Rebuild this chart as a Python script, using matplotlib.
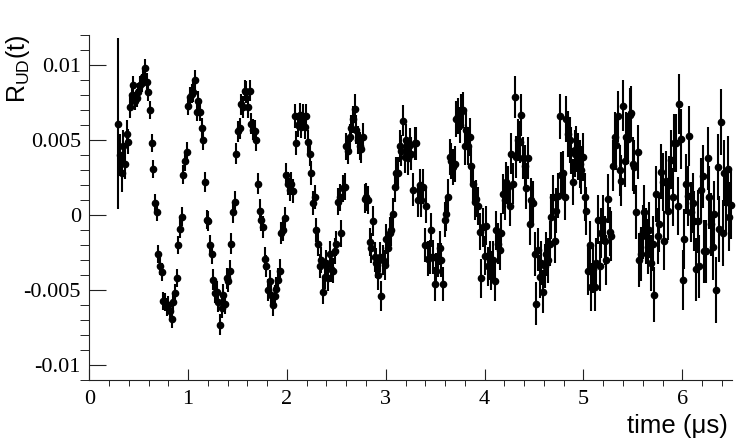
"""R_UD(t) up-down asymmetry vs time, ROOT-like styling."""

import matplotlib.pyplot as plt
import numpy as np
from matplotlib.ticker import FuncFormatter, MultipleLocator

# time binning (us)
T_FIRST = 0.293
BIN_WIDTH = 0.01685

# asymmetry per bin, in units of 1e-3
R_UD = [
    # 0.29 - 1.03 us
    6.1, 4.0, 2.8, 4.6, 3.4, 5.4, 4.9, 7.2, 8.0, 8.7,
    7.6, 7.8, 8.2, 8.7, 8.8, 9.2, 9.8, 8.9, 8.2, 7.0,
    4.8, 3.1, 0.8, 0.2, -2.6, -3.4, -3.8, -5.7, -5.8, -6.1,
    -6.0, -6.4, -6.9, -5.8, -5.2, -4.2, -2.0, -0.9, -0.1, 2.7,
    3.6, 4.2, 7.3, 7.9, 8.1,
    # 1.05 - 1.83 us
    8.2, 9.0, 6.9, 7.6, 6.9, 5.8, 5.0, 2.2, -0.3, -0.4,
    -2.0, -2.6, -4.3, -5.2, -5.1, -5.8, -7.3, -6.2, -5.3, -5.9,
    -4.2, -4.4, -3.7, -1.9, 0.2, 0.9, 4.1, 5.6, 5.8, 7.4,
    7.2, 8.3, 8.2, 7.2, 8.3, 6.1, 5.7, 5.6, 5.0, 2.1,
    0.3, -0.3, -0.8, -2.9, -3.4, -5.0, -4.4,
    # 1.84 - 3.44 us
    -5.3, -6.0, -5.4, -4.9, -4.3, -3.7, -1.2, -1.0, -0.2, 2.7,
    2.1, 1.7, 2.1, 1.6, 6.6, 4.8, 6.0, 6.7, 5.9, 6.6,
    5.9, 6.6, 4.9, 4.1, 2.8, 0.8, 1.2, -1.0, -1.9, -3.4,
    -3.0, -5.1, -4.1, -3.2, -4.2, -2.6, -3.6, -3.7, -2.4, -1.9,
    0.9, 1.2, -1.2, 1.8, 1.9, 4.6, 4.3, 5.2, 5.8, 6.4,
    7.1, 5.7, 5.0, 4.6, 4.4, 5.2, 1.1, 1.2, 1.0, -1.8,
    -2.2, -0.4, -2.8, -3.2, -4.0, -2.8, -5.4, -3.0, -3.3, -1.6,
    -2.2, -1.2, -1.0, 0.1, 1.9, 2.8, 2.8, 4.6, 4.3, 6.3,
    3.9, 5.0, 3.8, 4.7, 4.1, 1.7, 4.8, 4.8, 1.0, 2.0,
    1.0, 1.9, -2.0, 0.6, -2.9, -2.8,
    # 3.46 - 4.94 us
    -1.0, -2.8, -4.6, -3.7, -3.0, -2.2, -3.0, -4.6, -0.3, 0.1,
    1.2, 3.9, 3.6, 3.2, 3.4, 6.4, 6.6, 6.0, 6.9, 7.0,
    4.6, 5.7, 4.6, 5.2, 3.3, 2.1, 0.9, 1.1, 0.6, -1.1,
    -4.2, -0.8, -2.7, -0.7, -3.4, -3.0, -3.7, -3.0, -4.4, -1.0,
    -1.9, -2.3, -1.2, 1.4, 1.0, 2.2, 1.9, 0.6, 4.1, 2.1,
    7.9, 3.9, 5.0, 4.9, 6.7, 3.8, 3.3, 1.8, 3.8, -0.6,
    1.0, 0.8, -2.6, -5.9, -2.3, -4.1, -3.2, -5.1, -3.4, -2.6,
    -3.0, -1.9, -0.1, 1.2, -1.7, 0.3, 1.3, 6.6, 2.7, 2.8,
    1.2, 6.4, 5.4, 5.0, 4.3, 2.2, 4.1, 4.4, 3.9,
    # 4.95 - 6.49 us
    3.4, 3.0, 3.9, 1.2, 0.3, -3.7, -2.0, -4.8, -3.6, -4.8,
    -3.2, -0.3, -3.4, -1.2, -0.3, -1.7, -3.0, 1.1, -1.1, -1.4,
    3.3, 5.2, 4.7, 6.6, 3.0, 2.3, 7.3, 3.6, 5.2, 5.1,
    6.7, 6.8, 3.4, 3.2, 0.2, 4.2, -3.0, -2.6, -1.1, 0.2,
    -1.4, -2.1, -1.0, -3.2, -1.9, -5.3, 1.4, -1.4, -0.6, 2.9,
    2.2, -1.7, 2.3, 0.3, 2.0, 3.7, 1.2, 4.8, 4.8, 0.6,
    7.4, 5.1, -4.3, -1.6, 2.1, 1.3, 5.3, 0.2, 0.8, -0.4,
    -3.6, -0.4, -3.4, 1.7, 2.6, -2.4, -2.4, 3.8, 1.2, -0.6,
    -2.1, 0.1, -5.0, 3.2, -0.9, 6.2, -1.2, 2.8, 0.9, 3.1,
    -0.1, 0.7,
]

# statistical error per bin, in units of 1e-3
R_UD_ERR = [
    5.7, 1.4, 1.25, 1.1, 1.0, 0.95, 0.85, 0.7, 0.65, 0.6,
    0.6, 0.6, 0.6, 0.6, 0.6, 0.6, 0.6, 0.6, 0.6, 0.6,
    0.6, 0.6, 0.6, 0.6, 0.6, 0.6, 0.6, 0.6, 0.6, 0.6,
    0.62, 0.62, 0.62, 0.62, 0.62, 0.62, 0.62, 0.62, 0.62, 0.62,
    0.65, 0.65, 0.65, 0.65, 0.65,
    0.65, 0.65, 0.65, 0.65, 0.65, 0.65, 0.65, 0.65, 0.65, 0.65,
    0.67, 0.67, 0.67, 0.67, 0.67, 0.67, 0.67, 0.67, 0.67, 0.67,
    0.7, 0.7, 0.7, 0.7, 0.7, 0.7, 0.7, 0.7, 0.7, 0.7,
    0.72, 0.72, 0.72, 0.72, 0.72, 0.72, 0.72, 0.72, 0.72, 0.72,
    0.75, 0.75, 0.75, 0.75, 0.75, 0.75, 0.75,
    0.75, 0.75, 0.75, 0.75, 0.75, 0.75, 0.75, 0.75, 0.75, 0.75,
    0.78, 0.78, 0.78, 0.78, 0.78, 0.78, 0.78, 0.78, 0.78, 0.78,
    0.8, 0.8, 0.8, 0.8, 0.8, 0.8, 0.8, 0.8, 0.8, 0.8,
    0.85, 0.85, 0.85, 0.85, 0.85, 0.85, 0.85, 0.85, 0.85, 0.85,
    0.9, 0.9, 0.9, 0.9, 0.9, 0.9, 0.9, 0.9, 0.9, 0.9,
    0.95, 0.95, 0.95, 0.95, 0.95, 0.95, 0.95, 0.95, 0.95, 0.95,
    1.0, 1.0, 1.0, 1.0, 1.0, 1.0, 1.0, 1.0, 1.0, 1.0,
    1.05, 1.05, 1.05, 1.05, 1.05, 1.05, 1.05, 1.05, 1.05, 1.05,
    1.1, 1.1, 1.1, 1.1, 1.1, 1.1, 1.1, 1.1, 1.1, 1.1,
    1.15, 1.15, 1.15, 1.15, 1.15, 1.15,
    1.15, 1.15, 1.15, 1.15, 1.15, 1.15, 1.15, 1.15, 1.15, 1.15,
    1.2, 1.2, 1.2, 1.2, 1.2, 1.2, 1.2, 1.2, 1.2, 1.2,
    1.25, 1.25, 1.25, 1.25, 1.25, 1.25, 1.25, 1.25, 1.25, 1.25,
    1.3, 1.3, 1.3, 1.3, 1.3, 1.3, 1.3, 1.3, 1.3, 1.3,
    1.35, 1.35, 1.35, 1.35, 1.35, 1.35, 1.35, 1.35, 1.35, 1.35,
    1.4, 1.4, 1.4, 1.4, 1.4, 1.4, 1.4, 1.4, 1.4, 1.4,
    1.45, 1.45, 1.45, 1.45, 1.45, 1.45, 1.45, 1.45, 1.45, 1.45,
    1.5, 1.5, 1.5, 1.5, 1.5, 1.5, 1.5, 1.5, 1.5, 1.5,
    1.55, 1.55, 1.55, 1.55, 1.55, 1.55, 1.55, 1.55, 1.55,
    1.6, 1.6, 1.6, 1.6, 1.6, 1.6, 1.6, 1.6, 1.6, 1.6,
    1.65, 1.65, 1.65, 1.65, 1.65, 1.65, 1.65, 1.65, 1.65, 1.65,
    1.7, 1.7, 1.7, 1.7, 1.7, 1.7, 1.7, 1.7, 1.7, 1.7,
    1.8, 1.8, 1.8, 1.8, 1.8, 1.8, 1.8, 1.8, 1.8, 1.8,
    1.85, 1.85, 1.85, 1.85, 1.85, 1.85, 1.85, 1.85, 1.85, 1.85,
    1.95, 1.95, 1.95, 1.95, 1.95, 1.95, 1.95, 1.95, 1.95, 1.95,
    2.0, 2.0, 2.0, 2.0, 2.0, 2.0, 2.0, 2.0, 2.0, 2.0,
    2.1, 2.1, 2.1, 2.1, 2.1, 2.1, 2.1, 2.1, 2.1, 2.1,
    2.2, 2.2, 2.2, 2.2, 2.2, 2.2, 2.2, 2.2, 2.2, 2.2,
    2.3, 2.3,
]

W, H = 747, 442
AX_LEFT, AX_RIGHT, AX_TOP, AX_BOTTOM = 89.3, 731.7, 35, 380

plt.rcParams["mathtext.default"] = "regular"

r_ud = np.array(R_UD) * 1e-3
r_err = np.array(R_UD_ERR) * 1e-3
t = T_FIRST + BIN_WIDTH * np.arange(len(r_ud))

fig = plt.figure(figsize=(W / 100, H / 100), dpi=100)
ax = fig.add_axes([
    AX_LEFT / W,
    1 - AX_BOTTOM / H,
    (AX_RIGHT - AX_LEFT) / W,
    (AX_BOTTOM - AX_TOP) / H,
])

ax.errorbar(
    t, r_ud, yerr=r_err,
    fmt="o", color="black", markersize=4.5,
    elinewidth=1.5, capsize=0, clip_on=False,
)

ax.set_xlim(0, 6.5)
ax.set_ylim(-0.011, 0.012)

for side in ("top", "right"):
    ax.spines[side].set_visible(False)
for side in ("left", "bottom"):
    ax.spines[side].set_linewidth(0.8)
    ax.spines[side].set_color("#222222")

ax.xaxis.set_major_locator(MultipleLocator(1))
ax.xaxis.set_minor_locator(MultipleLocator(0.2))
ax.yaxis.set_major_locator(MultipleLocator(0.005))
ax.yaxis.set_minor_locator(MultipleLocator(0.001))
ax.yaxis.set_major_formatter(FuncFormatter(lambda v, _: "%g" % round(v, 6)))

ax.tick_params(direction="in", color="#222222", width=0.8)
ax.tick_params(axis="x", which="major", length=8, pad=7)
ax.tick_params(axis="x", which="minor", length=4.3)
ax.tick_params(axis="y", which="major", length=12, pad=6)
ax.tick_params(axis="y", which="minor", length=6.5)
for label in ax.get_xticklabels() + ax.get_yticklabels():
    label.set_fontfamily("Liberation Serif")
    label.set_fontsize(16)

fig.text(
    4 / W, 1 - 35 / H, r"R$_{UD}$(t)",
    rotation=90, ha="left", va="top",
    family="Liberation Sans", fontsize=18,
)
fig.text(
    728 / W, 1 - 433 / H, "time (\u03bcs)",
    ha="right", va="baseline",
    family="Liberation Sans", fontsize=18.5,
)

fig.savefig("out.png", dpi=100)
